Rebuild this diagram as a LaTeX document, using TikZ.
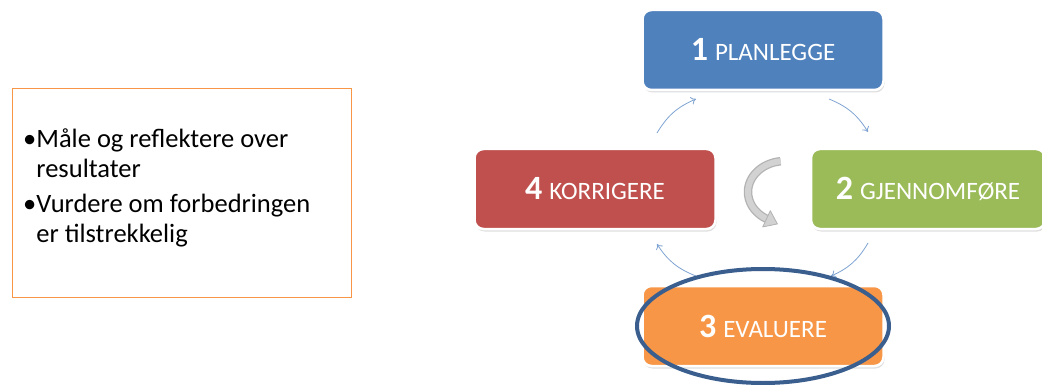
\documentclass[tikz,border=0pt]{standalone}
\usepackage{fontspec}
\setmainfont{Carlito}
\usetikzlibrary{arrows.meta,shadows,calc}
\definecolor{cblue}{HTML}{4F81BD}
\definecolor{cgreen}{HTML}{9BBB59}
\definecolor{cred}{HTML}{C0504D}
\definecolor{corange}{HTML}{F79646}
\definecolor{cring}{HTML}{3A5E8E}
\definecolor{carrow}{HTML}{7FA4D2}
\tikzset{
  stepbox/.style={rounded corners=9pt, draw=white, line width=2.5pt,
    minimum width=241pt, minimum height=80pt, text=white, inner sep=0pt,
    drop shadow={opacity=0.25, shadow xshift=1pt, shadow yshift=-2.5pt}},
  cyc/.style={draw=carrow, line width=0.8pt, -{To[length=5pt,width=8pt]}, bend left=18},
}
\newcommand{\steplabel}[2]{{\bfseries\fontsize{34}{40}\selectfont #1}\hspace{7pt}{\fontsize{25}{30}\selectfont #2}}
\begin{document}
\begin{tikzpicture}[x=1pt,y=1pt]
\useasboundingbox (0,0) rectangle (1042,-385);
\fill[white] (0,0) rectangle (1042,-385);

% left text box
\node[draw=corange, line width=1.3pt, minimum width=339pt, minimum height=209pt, anchor=north west, inner sep=0pt] (info) at (12,-88) {};
\node[anchor=base west, inner sep=0pt, font=\fontsize{26.5}{29}\selectfont] (infotext) at (23,-148)
 {\begin{tabular}[t]{@{}l@{}l@{}}
  •&Måle og reflektere over\\[1pt]
   &resultater\\[6pt]
  •&Vurdere om forbedringen\\[1pt]
   &er tilstrekkelig
 \end{tabular}};

% step boxes
\node[stepbox, fill=cblue] (s1) at (763,-50) {\steplabel{1}{PLANLEGGE}};
\node[stepbox, fill=cgreen, minimum width=234pt] (s2) at (928,-189) {\steplabel{2}{GJENNOMFØRE}};
\node[stepbox, fill=corange] (s3) at (763,-326) {\steplabel{3}{EVALUERE}};
\node[stepbox, fill=cred] (s4) at (595,-189) {\steplabel{4}{KORRIGERE}};

% cycle arrows
\coordinate (a1s) at (657,-133); \coordinate (a1e) at (696,-99);
\coordinate (a2s) at (829,-99);  \coordinate (a2e) at (868,-132);
\coordinate (a3s) at (868,-243); \coordinate (a3e) at (831,-276);
\coordinate (a4s) at (696,-276); \coordinate (a4e) at (657,-244);
\draw[cyc] (a1s) to (a1e);
\draw[cyc] (a2s) to (a2e);
\draw[cyc] (a3s) to (a3e);
\draw[cyc] (a4s) to (a4e);

% central circular arrow
\coordinate (cc) at (785,-192);
\coordinate (ce) at ([shift={(240:37 and 31)}]cc);
\draw[gray!60, line width=8.5pt]
  ([shift={(97:37 and 31)}]cc) arc[start angle=97, end angle=240, x radius=37, y radius=31];
\draw[gray!35, line width=6pt]
  ([shift={(96.5:37 and 31)}]cc) arc[start angle=96.5, end angle=240.5, x radius=37, y radius=31];
\fill[gray!35, draw=gray!60, line width=0.8pt, line join=round]
  ($(ce)+(3.8,8.1)$) -- ($(ce)+(10.9,-5.1)$) -- ($(ce)+(-3.8,-8.1)$) -- cycle;

% highlight ring
\draw[cring, line width=4pt] (s3.center) ellipse[x radius=126, y radius=57];
\end{tikzpicture}
\end{document}
